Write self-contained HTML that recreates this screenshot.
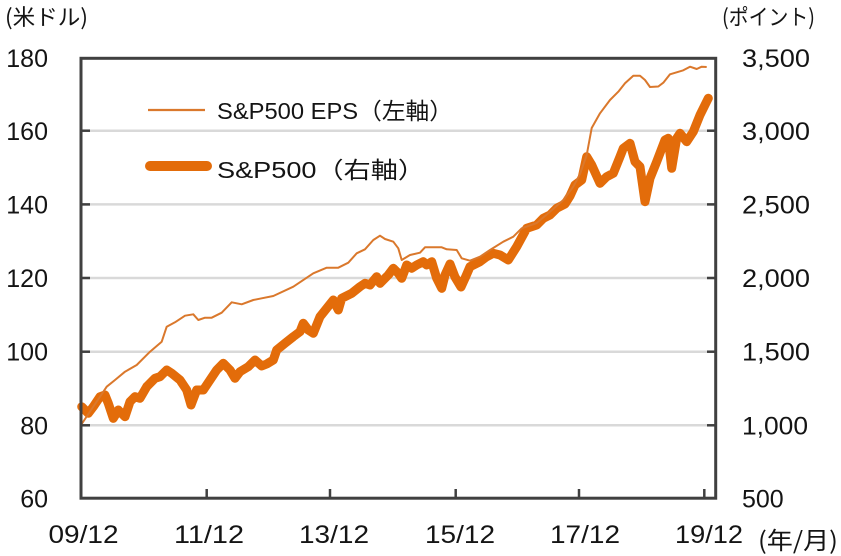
<!DOCTYPE html>
<html><head><meta charset="utf-8"><style>
html,body{margin:0;padding:0;background:#fff;}
svg{display:block;}
text{font-family:"Liberation Sans","Noto Sans CJK JP",sans-serif;fill:#141414;}
.j{font-family:"Noto Sans CJK JP","Liberation Sans",sans-serif;}
</style></head><body>
<svg width="841" height="556" viewBox="0 0 841 556" xmlns="http://www.w3.org/2000/svg">
<rect width="841" height="556" fill="#fff"/>
<!-- gridlines -->
<g stroke="#d9d9d9" stroke-width="2.5">
<line x1="81" y1="130.7" x2="716" y2="130.7"/>
<line x1="81" y1="204.4" x2="716" y2="204.4"/>
<line x1="81" y1="278" x2="716" y2="278"/>
<line x1="81" y1="351.7" x2="716" y2="351.7"/>
<line x1="81" y1="425.3" x2="716" y2="425.3"/>
</g>
<!-- inner ticks -->
<g stroke="#404040" stroke-width="2.5">
<line x1="81" y1="130.7" x2="90" y2="130.7"/><line x1="707" y1="130.7" x2="716" y2="130.7"/>
<line x1="81" y1="204.4" x2="90" y2="204.4"/><line x1="707" y1="204.4" x2="716" y2="204.4"/>
<line x1="81" y1="278" x2="90" y2="278"/><line x1="707" y1="278" x2="716" y2="278"/>
<line x1="81" y1="351.7" x2="90" y2="351.7"/><line x1="707" y1="351.7" x2="716" y2="351.7"/>
<line x1="81" y1="425.3" x2="90" y2="425.3"/><line x1="707" y1="425.3" x2="716" y2="425.3"/>
<line x1="206.7" y1="498" x2="206.7" y2="489"/>
<line x1="330" y1="498" x2="330" y2="489"/>
<line x1="455.7" y1="498" x2="455.7" y2="489"/>
<line x1="579" y1="498" x2="579" y2="489"/>
<line x1="704.3" y1="498" x2="704.3" y2="489"/>
</g>
<!-- S&P500 thick -->
<polyline fill="none" stroke="#E36C0A" stroke-width="9" stroke-linejoin="round" stroke-linecap="round" points="
81.7,406.7 88.3,413.3 93.3,406.7 100,396.7 105,395 108.3,403.3 113.3,418.3 118.3,410 125,416.7 130,401.7 135,396.7 140,398.3 146.7,386.7 155,378.3 160,376.7 166.7,370 171.7,373.3 180,380 186.7,390 191,405 196.7,390 203.3,390 210,380 216.7,370 223.3,363.3 230,370 235,378.3 240,371.7 248.3,366.7 255,360 261.7,366 266.7,364 273.3,360 276.7,350 285,343.3 293.3,336.7 300,331.7 303.3,323.3 308.3,330 313.3,333.3 320,316.7 326.7,308.3 333.3,300 338.3,310 341.7,298.3 351.7,293.3 360,286.7 365,283.3 370,285 376.7,276.7 380,283.3 388.3,275 393.3,268.3 398.3,273.3 401.7,278.3 406.7,265 411.7,268.3 416.7,265 423.3,261.7 426.7,265 431.7,261.7 436.7,278.3 441.7,288.3 445,275 450,264 455,277 461,287 466,276 470,266.7 480,261.7 486.7,256.7 493.3,253.3 500,255 508.3,260 516.7,246.7 526.7,228.3 536.7,225 543.3,218.3 550,215 556.7,208.3 565,204 570,196 575,185 581.7,180 586.7,156.7 591.7,165 600,183.3 606.7,176.7 613.3,173.3 620,156.7 623.3,148.3 630,143.3 635,161.7 640,166.7 645,201.7 650,178.3 656.7,161.7 665,140 668.3,138.3 671.7,168.3 676.7,138.3 680,133.3 686.7,141.7 693.3,131.7 700,115 708.3,98.3"/>
<!-- EPS thin -->
<polyline fill="none" stroke="#DA782C" stroke-width="2" stroke-linejoin="round" points="
81,425 106.7,386.7 115,380 125,371.7 136.7,365 150,351.7 161.7,341.7 166.7,326.7 175,322.3 185,315.7 193.3,314.3 198.3,320 205,317.7 211.7,317.7 221.7,312.7 231.7,302.3 241.7,304.3 253.3,300 261.7,298.3 273.3,296 293.3,286.7 313.3,273.3 326.7,267.7 338.3,267.7 348.3,262.7 356.7,253.3 365,249.3 373.3,240 380,235.7 385,239 393.3,241.7 398.3,248.3 401.7,260 410,255 420,252.7 425,247.3 441.7,247.3 446.7,249.3 456.7,250 461.7,258.3 470,260.7 480,256.7 490,250 503.3,241.7 513.3,236.7 521.7,228.3 536.7,223 550,211.7 563.3,200 573.3,186.7 580,174 586.7,155 591.7,128 600,113.3 610,100 618.3,91.7 625,83.3 633.3,75.7 640,75.7 645,80 650,87 658.3,86.5 663.3,82.7 670,74.3 676.7,72.3 683.3,70.3 690,66.7 696.7,69 701.7,66.7 706.7,67"/>
<!-- frame -->
<rect x="81" y="58.3" width="634.7" height="439.9" fill="none" stroke="#404040" stroke-width="3"/>
<!-- legend -->
<line x1="148" y1="110" x2="205" y2="110" stroke="#DA782C" stroke-width="2.2"/>
<line x1="150" y1="166" x2="207" y2="166" stroke="#E36C0A" stroke-width="10" stroke-linecap="round"/>
<text x="217" y="119" font-size="23" textLength="236" lengthAdjust="spacingAndGlyphs">S&amp;P500 EPS（左軸）</text>
<text x="217" y="178" font-size="23" textLength="208" lengthAdjust="spacingAndGlyphs">S&amp;P500（右軸）</text>
<!-- left axis labels -->
<g font-size="25" text-anchor="end">
<text x="48" y="67">180</text>
<text x="48" y="140">160</text>
<text x="48" y="213.5">140</text>
<text x="48" y="287">120</text>
<text x="48" y="360.7">100</text>
<text x="48" y="434.3">80</text>
<text x="48" y="507.6">60</text>
</g>
<!-- right axis labels -->
<g font-size="25">
<text x="742" y="67" textLength="68" lengthAdjust="spacingAndGlyphs">3,500</text>
<text x="742" y="140" textLength="68" lengthAdjust="spacingAndGlyphs">3,000</text>
<text x="742" y="213.5" textLength="68" lengthAdjust="spacingAndGlyphs">2,500</text>
<text x="742" y="287" textLength="68" lengthAdjust="spacingAndGlyphs">2,000</text>
<text x="742" y="360.7" textLength="68" lengthAdjust="spacingAndGlyphs">1,500</text>
<text x="742" y="434.3" textLength="66" lengthAdjust="spacingAndGlyphs">1,000</text>
<text x="742" y="507.6">500</text>
</g>
<!-- x labels -->
<g font-size="25">
<text x="48.5" y="543" textLength="70" lengthAdjust="spacingAndGlyphs">09/12</text>
<text x="174" y="543" textLength="70" lengthAdjust="spacingAndGlyphs">11/12</text>
<text x="299" y="543" textLength="70" lengthAdjust="spacingAndGlyphs">13/12</text>
<text x="425" y="543" textLength="70" lengthAdjust="spacingAndGlyphs">15/12</text>
<text x="550" y="543" textLength="70" lengthAdjust="spacingAndGlyphs">17/12</text>
<text x="675" y="543" textLength="68" lengthAdjust="spacingAndGlyphs">19/12</text>
</g>
<text class="j" x="758" y="549" font-size="24" textLength="80" lengthAdjust="spacingAndGlyphs">(年/月)</text>
<text class="j" x="5" y="25" font-size="22" textLength="83" lengthAdjust="spacingAndGlyphs">(米ドル)</text>
<text class="j" x="722" y="25" font-size="22" textLength="93" lengthAdjust="spacingAndGlyphs">(ポイント)</text>
</svg>
</body></html>
